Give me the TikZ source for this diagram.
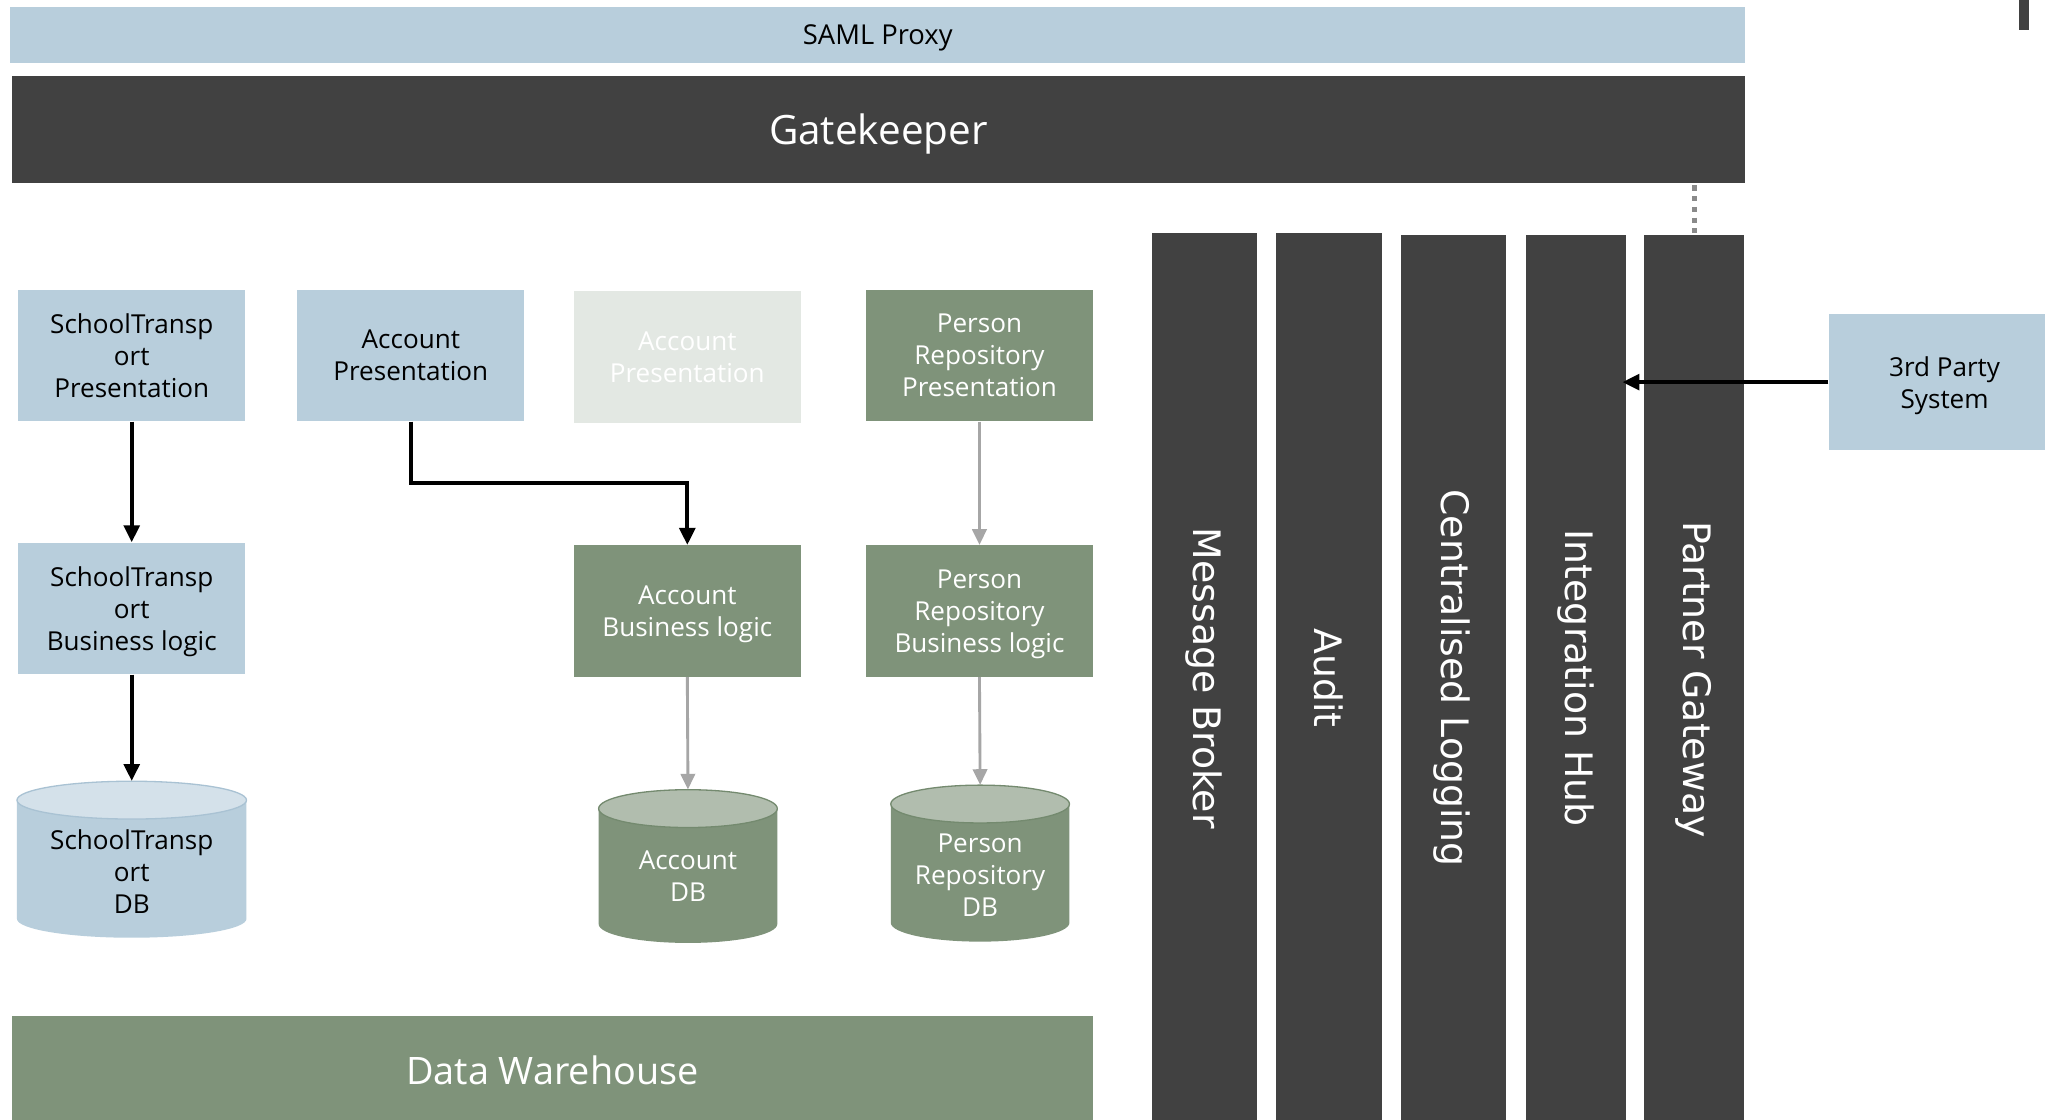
\documentclass[tikz,border=0pt]{standalone}
\usepackage{fontspec}
\setmainfont{Open Sans}
\newfontfamily\vfont{DejaVu Sans}
\usetikzlibrary{arrows.meta,calc}
\definecolor{lblue}{HTML}{B8CEDC}
\definecolor{lbluetop}{HTML}{D4E1EA}
\definecolor{lblueedge}{HTML}{A9C2D3}
\definecolor{dgray}{HTML}{414141}
\definecolor{sgreen}{HTML}{7F937A}
\definecolor{sgreentop}{HTML}{B1BDAE}
\definecolor{sgreenedge}{HTML}{748A6F}
\definecolor{faded}{HTML}{E3E8E3}
\definecolor{arrgray}{HTML}{A6A6A6}
\definecolor{dotgray}{HTML}{8A8A8A}
\tikzset{
  box/.style={rectangle, inner sep=0pt, minimum width=174pt, minimum height=101pt, align=center, text depth=0pt, font=\fontsize{20}{24.5}\selectfont},
  bluebox/.style={box, fill=lblue, text=black},
  greenbox/.style={box, fill=sgreen, text=white},
  fadedbox/.style={box, fill=faded, text=white},
  bar/.style={rectangle, inner sep=0pt, fill=dgray},
  vlabel/.style={text=white, rotate=-90, font=\vfont\fontsize{29}{34}\selectfont, inner sep=0pt},
  dbtext/.style={align=center, inner sep=0pt, font=\fontsize{20}{24.5}\selectfont},
  blackarr/.style={draw=black, line width=3pt, -{Triangle[length=13pt,width=12pt]}},
  grayarr/.style={draw=arrgray, line width=2.2pt, -{Triangle[length=12pt,width=11pt]}},
}
\begin{document}
\begin{tikzpicture}[x=1pt,y=-1pt]
\useasboundingbox (0,0) rectangle (1568,858);
\clip (0,0) rectangle (1568,858);
\fill[white] (0,0) rectangle (1568,858);

% top bands
\node[rectangle, fill=lblue, minimum width=1330pt, minimum height=43pt, inner sep=0pt, text depth=0pt, font=\fontsize{21}{25}\selectfont] (saml) at (673,26.5) {SAML Proxy};
\node[rectangle, fill=dgray, text=white, minimum width=1329pt, minimum height=82pt, inner sep=0pt, text depth=0pt, font=\fontsize{31}{36}\selectfont] (gk) at (673.5,99) {Gatekeeper};

% small mark at top right
\fill[dgray] (1548,0) rectangle (1556,23);

% vertical bars
\node[bar, minimum width=81pt, minimum height=683pt] (mb) at (923.5,520.5) {};
\node[bar, minimum width=82pt, minimum height=683pt] (au) at (1019,520.5) {};
\node[bar, minimum width=81pt, minimum height=682pt] (cl) at (1114.5,521) {};
\node[bar, minimum width=77pt, minimum height=682pt] (ih) at (1208.5,521) {};
\node[bar, minimum width=77pt, minimum height=682pt] (pg) at (1299,521) {};
\node[vlabel] (mbt) at (923,520) {Message Broker};
\node[vlabel] (aut) at (1018.5,520) {Audit};
\node[vlabel] (clt) at (1113.5,520) {Centralised Logging};
\node[vlabel] (iht) at (1208,520) {Integration Hub};
\node[vlabel] (pgt) at (1298.5,521) {Partner Gateway};

% dotted link gatekeeper -> partner gateway
\draw[dotgray, line width=4pt, dash pattern=on 4pt off 4.2pt] ([yshift=-2pt]gk.south -| pg.north) -- (pg.north);

% 3rd party
\node[bluebox, minimum width=178pt, minimum height=104pt] (tp) at (1491,293) {3rd Party\\System};
\coordinate (ihin) at (1244,293);
\draw[blackarr] (tp.west) -- (ihin);

% presentation row
\node[bluebox] (stp) at (101,272.5) {SchoolTransp\\ort\\Presentation};
\node[bluebox] (ap) at (315,272.5) {Account\\Presentation};
\node[fadedbox] (ap2) at (527,273.5) {Account\\Presentation};
\node[greenbox] (prp) at (751,272.5) {Person\\Repository\\Presentation};

% business logic row
\node[bluebox] (stb) at (101,466.5) {SchoolTransp\\ort\\Business logic};
\node[greenbox] (abl) at (527,468.5) {Account\\Business logic};
\node[greenbox] (prb) at (751,468.5) {Person\\Repository\\Business logic};

% databases
% SchoolTransport DB
\fill[lblue] (13,613.5) -- (13,704.5) arc[start angle=180, end angle=0, x radius=88, y radius=14.5] -- (189,613.5) -- cycle;
\filldraw[fill=lbluetop, draw=lblueedge, line width=1pt] (101,613.5) ellipse[x radius=88, y radius=14.5];
\node[inner sep=0pt, minimum width=176pt, minimum height=120pt] (stdb) at (101,659) {};
\node[dbtext, text=black] (stdbt) at (101,668) {SchoolTransp\\ort\\DB};

% Account DB
\fill[sgreen] (459,620) -- (459,708.5) arc[start angle=180, end angle=0, x radius=68.5, y radius=14.5] -- (596,620) -- cycle;
\filldraw[fill=sgreentop, draw=sgreenedge, line width=1pt] (527.5,620) ellipse[x radius=68.5, y radius=14.5];
\node[inner sep=0pt, minimum width=137pt, minimum height=117pt] (adb) at (527.5,664) {};
\node[dbtext, text=white] (adbt) at (527.5,672) {Account\\DB};

% Person Repository DB
\fill[sgreen] (683,616.5) -- (683,707.5) arc[start angle=180, end angle=0, x radius=68.5, y radius=14.5] -- (820,616.5) -- cycle;
\filldraw[fill=sgreentop, draw=sgreenedge, line width=1pt] (751.5,616.5) ellipse[x radius=68.5, y radius=14.5];
\node[inner sep=0pt, minimum width=137pt, minimum height=120pt] (prdb) at (751.5,662) {};
\node[dbtext, text=white] (prdbt) at (751.5,671) {Person\\Repository\\DB};

% data warehouse
\node[rectangle, fill=sgreen, text=white, minimum width=829pt, minimum height=84pt, inner sep=0pt, font=\fontsize{29}{34}\selectfont] (dw) at (423.5,821) {Data Warehouse};

% connectors
\draw[blackarr] (stp.south) -- (stb.north);
\draw[blackarr] (stb.south) -- (stdb.north);
\draw[blackarr] (ap.south) -- ++(0,47) -| (abl.north);
\draw[grayarr] (prp.south) -- (prb.north);
\draw[grayarr] (abl.south) -- (adb.north);
\draw[grayarr] (prb.south) -- (prdb.north);
\end{tikzpicture}
\end{document}
